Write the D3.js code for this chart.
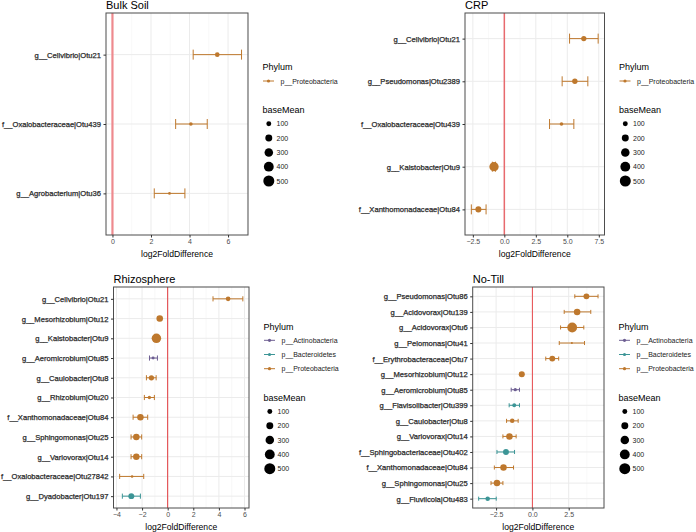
<!DOCTYPE html>
<html><head><meta charset="utf-8">
<script src="https://cdn.jsdelivr.net/npm/d3@7"></script>
<style>body{margin:0;background:#fff} svg{display:block;font-family:"Liberation Sans",Arial,sans-serif}</style>
</head><body><svg id="c" width="696" height="532"></svg>
<script>
// ---------- DATA ----------
const bulkTaxa = ["g__Cellvibrio|Otu21","f__Oxalobacteraceae|Otu439","g__Agrobacterium|Otu36"];
const bulkLog2FC = [5.44, 4.07, 2.96];
const bulkLower = [4.19, 3.28, 2.17];
const bulkUpper = [6.70, 4.92, 3.76];
const bulkBaseMean = [90, 55, 30];
const bulkPhylum = ["p__Proteobacteria","p__Proteobacteria","p__Proteobacteria"];
const bulkTicks = [0, 2, 4, 6];

const crpTaxa = ["g__Cellvibrio|Otu21","g__Pseudomonas|Otu2389","f__Oxalobacteraceae|Otu439","g__Kaistobacter|Otu9","f__Xanthomonadaceae|Otu84"];
const crpLog2FC = [6.31, 5.60, 4.54, -0.82, -2.06];
const crpLower = [5.18, 4.59, 3.59, -0.95, -2.62];
const crpUpper = [7.45, 6.63, 5.52, -0.70, -1.45];
const crpBaseMean = [115, 120, 55, 360, 150];
const crpPhylum = ["p__Proteobacteria","p__Proteobacteria","p__Proteobacteria","p__Proteobacteria","p__Proteobacteria"];
const crpTicks = [-2.5, 0, 2.5, 5, 7.5];

const rhizoTaxa = ["g__Cellvibrio|Otu21","g__Mesorhizobium|Otu12","g__Kaistobacter|Otu9","g__Aeromicrobium|Otu85","g__Caulobacter|Otu8","g__Rhizobium|Otu20","f__Xanthomonadaceae|Otu84","g__Sphingomonas|Otu25","g__Variovorax|Otu14","f__Oxalobacteraceae|Otu27842","g__Dyadobacter|Otu197"];
const rhizoLog2FC = [4.72, -0.62, -0.88, -1.14, -1.27, -1.43, -2.13, -2.45, -2.45, -2.78, -2.84];
const rhizoLower = [3.54, -0.72, -1.00, -1.42, -1.66, -1.82, -2.70, -2.86, -2.86, -3.75, -3.54];
const rhizoUpper = [5.87, -0.52, -0.76, -0.80, -0.90, -1.04, -1.56, -2.03, -2.03, -1.87, -2.13];
const rhizoBaseMean = [90, 180, 370, 36, 115, 46, 175, 175, 175, 28, 145];
const rhizoPhylum = ["p__Proteobacteria","p__Proteobacteria","p__Proteobacteria","p__Actinobacteria","p__Proteobacteria","p__Proteobacteria","p__Proteobacteria","p__Proteobacteria","p__Proteobacteria","p__Proteobacteria","p__Bacteroidetes"];
const rhizoTicks = [-4, -2, 0, 2, 4, 6];

const notillTaxa = ["g__Pseudomonas|Otu86","g__Acidovorax|Otu139","g__Acidovorax|Otu6","g__Pelomonas|Otu41","f__Erythrobacteraceae|Otu7","g__Mesorhizobium|Otu12","g__Aeromicrobium|Otu85","g__Flavisolibacter|Otu399","g__Caulobacter|Otu8","g__Variovorax|Otu14","f__Sphingobacteriaceae|Otu402","f__Xanthomonadaceae|Otu84","g__Sphingomonas|Otu25","g__Fluviicola|Otu483"];
const notillLog2FC = [3.72, 3.08, 2.74, 2.72, 1.37, -0.73, -1.18, -1.25, -1.39, -1.58, -1.82, -1.99, -2.44, -3.08];
const notillLower = [2.92, 2.19, 1.94, 1.85, 0.92, -0.85, -1.46, -1.60, -1.78, -2.03, -2.44, -2.62, -2.85, -3.70];
const notillUpper = [4.52, 4.02, 3.54, 3.59, 1.81, -0.62, -0.89, -0.89, -0.98, -1.12, -1.23, -1.30, -2.03, -2.49];
const notillBaseMean = [145, 175, 400, 16, 145, 150, 45, 64, 85, 175, 145, 175, 175, 85];
const notillPhylum = ["p__Proteobacteria","p__Proteobacteria","p__Proteobacteria","p__Proteobacteria","p__Proteobacteria","p__Proteobacteria","p__Actinobacteria","p__Bacteroidetes","p__Proteobacteria","p__Proteobacteria","p__Bacteroidetes","p__Proteobacteria","p__Proteobacteria","p__Bacteroidetes"];
const notillTicks = [-2.5, 0, 2.5];

const phylumNames = ["p__Actinobacteria","p__Bacteroidetes","p__Proteobacteria"];
const sizeBreaks = [100, 200, 300, 400, 500];

// ---------- STYLE ----------
const phylumColor = d3.scaleOrdinal().domain(phylumNames).range(["#6D5E92","#3C9596","#BE782D"]);
const rScale = d3.scaleSqrt().domain([0, 500]).range([0, 5.5]);
const svg = d3.select("#c");

function build(taxa, fc, lo, hi, bm, ph) {
  return taxa.map((t, i) => ({taxon: t, fc: fc[i], lo: lo[i], hi: hi[i], bm: bm[i], ph: ph[i]}));
}

function drawPanel(cfg, rows, ticks, tickFmt) {
  const g = svg.append("g");
  const lo = Math.min(0, d3.min(rows, d => d.lo)), hi = Math.max(0, d3.max(rows, d => d.hi));
  const pad = (hi - lo) * 0.05;
  const x = d3.scaleLinear().domain([lo - pad, hi + pad]).range([cfg.left, cfg.right]);
  const y = d3.scalePoint().domain(rows.map(d => d.taxon)).range([cfg.top, cfg.bottom]).padding(0.6);
  const step = y.step();
  const [d0, d1] = x.domain();
  const st = ticks[1] - ticks[0];
  const minors = [];
  for (let v = ticks[0] - st / 2; v <= ticks[ticks.length - 1] + st; v += st) minors.push(v);
  g.selectAll(".mn").data(minors.filter(v => v > d0 && v < d1)).join("line")
    .attr("x1", d => x(d)).attr("x2", d => x(d)).attr("y1", cfg.top).attr("y2", cfg.bottom)
    .attr("stroke", "#F3F3F3").attr("stroke-width", 0.6);
  g.selectAll(".mj").data(ticks).join("line")
    .attr("x1", d => x(d)).attr("x2", d => x(d)).attr("y1", cfg.top).attr("y2", cfg.bottom)
    .attr("stroke", "#EBEBEB").attr("stroke-width", 1);
  g.selectAll(".hy").data(rows).join("line")
    .attr("x1", cfg.left).attr("x2", cfg.right).attr("y1", d => y(d.taxon)).attr("y2", d => y(d.taxon))
    .attr("stroke", "#EBEBEB").attr("stroke-width", 1);
  g.append("line").attr("x1", x(0)).attr("x2", x(0)).attr("y1", cfg.top).attr("y2", cfg.bottom)
    .attr("stroke", cfg.zeroColor).attr("stroke-width", cfg.zeroWidth);
  const cap = Math.min(5, step * 0.13);
  const eb = g.selectAll(".eb").data(rows).join("g").attr("stroke", d => phylumColor(d.ph)).attr("stroke-width", 1);
  eb.append("line").attr("x1", d => x(d.lo)).attr("x2", d => x(d.hi)).attr("y1", d => y(d.taxon)).attr("y2", d => y(d.taxon));
  eb.append("line").attr("x1", d => x(d.lo)).attr("x2", d => x(d.lo)).attr("y1", d => y(d.taxon) - cap).attr("y2", d => y(d.taxon) + cap);
  eb.append("line").attr("x1", d => x(d.hi)).attr("x2", d => x(d.hi)).attr("y1", d => y(d.taxon) - cap).attr("y2", d => y(d.taxon) + cap);
  g.selectAll(".pt").data(rows).join("circle")
    .attr("cx", d => x(d.fc)).attr("cy", d => y(d.taxon)).attr("r", d => rScale(d.bm))
    .attr("fill", d => phylumColor(d.ph));
  g.append("rect").attr("x", cfg.left).attr("y", cfg.top).attr("width", cfg.right - cfg.left).attr("height", cfg.bottom - cfg.top)
    .attr("fill", "none").attr("stroke", "#4D4D4D").attr("stroke-width", 1);
  const xa = g.append("g").attr("transform", `translate(0,${cfg.bottom})`)
    .call(d3.axisBottom(x).tickValues(ticks).tickFormat(tickFmt).tickSize(2.5).tickPadding(1.5));
  xa.select(".domain").remove();
  xa.selectAll("line").attr("stroke", "#333");
  xa.selectAll("text").attr("fill", "#4D4D4D").attr("font-size", 7).attr("font-family", "Liberation Sans, Arial, sans-serif");
  const ya = g.append("g").attr("transform", `translate(${cfg.left},0)`)
    .call(d3.axisLeft(y).tickSize(2.5).tickPadding(2.5));
  ya.select(".domain").remove();
  ya.selectAll("line").attr("stroke", "#333");
  ya.selectAll("text").attr("fill", "#2a2a2a").attr("stroke", "#2a2a2a").attr("stroke-width", 0.25)
    .attr("font-size", 7.6).attr("font-family", "Liberation Sans, Arial, sans-serif");
  g.append("text").attr("x", cfg.left).attr("y", cfg.top - 4).attr("font-size", 11).attr("fill", "#000").text(cfg.title);
  g.append("text").attr("x", (cfg.left + cfg.right) / 2).attr("y", cfg.bottom + 21.5).attr("text-anchor", "middle")
    .attr("font-size", 8.6).attr("fill", "#000").text("log2FoldDifference");
  const present = phylumNames.filter(p => rows.some(d => d.ph === p));
  const lx = cfg.right + 14.5;
  const t0 = (cfg.top + cfg.bottom) / 2 - 57 - (present.length - 1) * 7.1;
  const lg = g.append("g");
  lg.append("text").attr("x", lx).attr("y", t0 + 3.2).attr("font-size", 9).text("Phylum");
  present.forEach((p, i) => {
    const yy = t0 + 14 + i * 14.2;
    lg.append("line").attr("x1", lx + 0.5).attr("x2", lx + 11.5).attr("y1", yy).attr("y2", yy).attr("stroke", phylumColor(p)).attr("stroke-width", 1);
    lg.append("circle").attr("cx", lx + 6).attr("cy", yy).attr("r", 1.6).attr("fill", phylumColor(p));
    lg.append("text").attr("x", lx + 18).attr("y", yy + 2.5).attr("font-size", 7).attr("fill", "#222").text(p);
  });
  const b0 = t0 + 14 + (present.length - 1) * 14.2 + 28.8;
  lg.append("text").attr("x", lx).attr("y", b0 + 3.2).attr("font-size", 9).text("baseMean");
  sizeBreaks.forEach((s, i) => {
    const yy = b0 + 14 + i * 14.3;
    lg.append("circle").attr("cx", lx + 6.3).attr("cy", yy).attr("r", rScale(s)).attr("fill", "#000");
    lg.append("text").attr("x", lx + 14).attr("y", yy + 2.5).attr("font-size", 7).attr("fill", "#222").text(s);
  });
}

const f0 = d3.format("d"), f1 = d3.format(".1f");
drawPanel({title: "Bulk Soil", left: 106, right: 248, top: 13, bottom: 235, zeroColor: "#EE8A8E", zeroWidth: 2.2},
  build(bulkTaxa, bulkLog2FC, bulkLower, bulkUpper, bulkBaseMean, bulkPhylum), bulkTicks, f0);
drawPanel({title: "CRP", left: 465, right: 604.5, top: 13, bottom: 235, zeroColor: "#E86A6E", zeroWidth: 1.5},
  build(crpTaxa, crpLog2FC, crpLower, crpUpper, crpBaseMean, crpPhylum), crpTicks, f1);
drawPanel({title: "Rhizosphere", left: 113.5, right: 249, top: 287, bottom: 508, zeroColor: "#E33A3E", zeroWidth: 1},
  build(rhizoTaxa, rhizoLog2FC, rhizoLower, rhizoUpper, rhizoBaseMean, rhizoPhylum), rhizoTicks, f0);
drawPanel({title: "No-Till", left: 472.7, right: 604, top: 287, bottom: 508, zeroColor: "#E84A4E", zeroWidth: 1},
  build(notillTaxa, notillLog2FC, notillLower, notillUpper, notillBaseMean, notillPhylum), notillTicks, f1);
</script></body></html>
